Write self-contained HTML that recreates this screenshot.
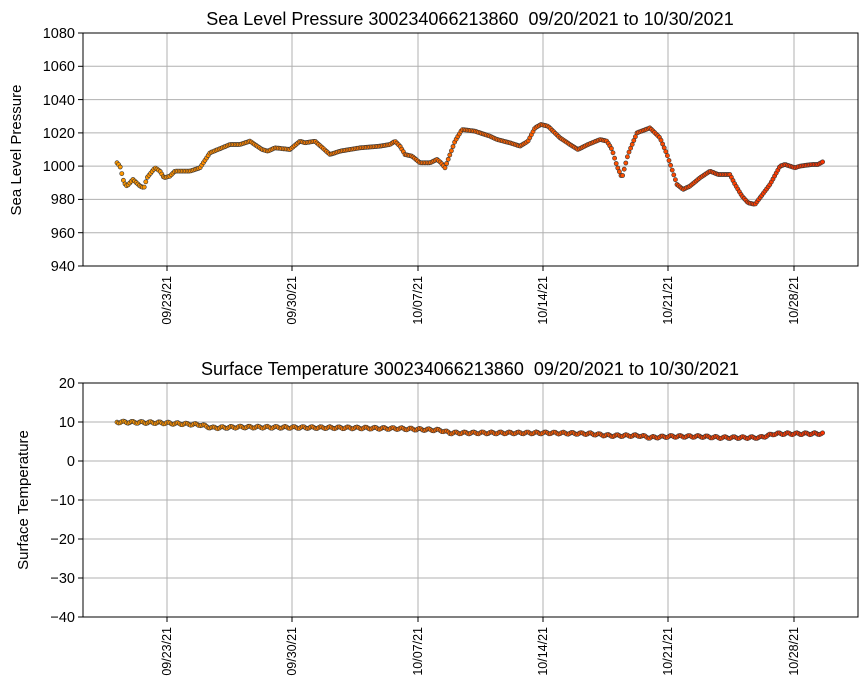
<!DOCTYPE html><html><head><meta charset="utf-8"><style>body{margin:0;background:#fff}svg{display:block}text{font-family:"Liberation Sans","DejaVu Sans",sans-serif;fill:#000;white-space:pre}</style></head><body>
<svg id="s" width="867" height="700" xmlns="http://www.w3.org/2000/svg">
<rect width="867" height="700" fill="#fff"/>
<g stroke="#b0b0b0" stroke-width="1">
<line x1="167" y1="33" x2="167" y2="266"/><line x1="292" y1="33" x2="292" y2="266"/><line x1="418" y1="33" x2="418" y2="266"/><line x1="543" y1="33" x2="543" y2="266"/><line x1="668" y1="33" x2="668" y2="266"/><line x1="794" y1="33" x2="794" y2="266"/>
<line x1="83" y1="66.3" x2="858" y2="66.3"/><line x1="83" y1="99.6" x2="858" y2="99.6"/><line x1="83" y1="132.9" x2="858" y2="132.9"/><line x1="83" y1="166.1" x2="858" y2="166.1"/><line x1="83" y1="199.4" x2="858" y2="199.4"/><line x1="83" y1="232.7" x2="858" y2="232.7"/>
<line x1="167" y1="383" x2="167" y2="617"/><line x1="292" y1="383" x2="292" y2="617"/><line x1="418" y1="383" x2="418" y2="617"/><line x1="543" y1="383" x2="543" y2="617"/><line x1="668" y1="383" x2="668" y2="617"/><line x1="794" y1="383" x2="794" y2="617"/>
<line x1="83" y1="422" x2="858" y2="422"/><line x1="83" y1="461" x2="858" y2="461"/><line x1="83" y1="500" x2="858" y2="500"/><line x1="83" y1="539" x2="858" y2="539"/><line x1="83" y1="578" x2="858" y2="578"/>
</g>
<g id="pts"></g>
<g fill="none" stroke="#000" stroke-width="1"><rect x="83" y="33" width="775" height="233"/><rect x="83" y="383" width="775" height="234"/></g>
<g stroke="#000"><line x1="167" y1="266" x2="167" y2="271"/><line x1="292" y1="266" x2="292" y2="271"/><line x1="418" y1="266" x2="418" y2="271"/><line x1="543" y1="266" x2="543" y2="271"/><line x1="668" y1="266" x2="668" y2="271"/><line x1="794" y1="266" x2="794" y2="271"/>
<line x1="167" y1="617" x2="167" y2="622"/><line x1="292" y1="617" x2="292" y2="622"/><line x1="418" y1="617" x2="418" y2="622"/><line x1="543" y1="617" x2="543" y2="622"/><line x1="668" y1="617" x2="668" y2="622"/><line x1="794" y1="617" x2="794" y2="622"/>
<line x1="78" y1="33" x2="83" y2="33"/><line x1="78" y1="66.3" x2="83" y2="66.3"/><line x1="78" y1="99.6" x2="83" y2="99.6"/><line x1="78" y1="132.9" x2="83" y2="132.9"/><line x1="78" y1="166.1" x2="83" y2="166.1"/><line x1="78" y1="199.4" x2="83" y2="199.4"/><line x1="78" y1="232.7" x2="83" y2="232.7"/><line x1="78" y1="266" x2="83" y2="266"/>
<line x1="78" y1="383" x2="83" y2="383"/><line x1="78" y1="422" x2="83" y2="422"/><line x1="78" y1="461" x2="83" y2="461"/><line x1="78" y1="500" x2="83" y2="500"/><line x1="78" y1="539" x2="83" y2="539"/><line x1="78" y1="578" x2="83" y2="578"/><line x1="78" y1="617" x2="83" y2="617"/></g>
<g font-size="14.5" text-anchor="end">
<text x="75" y="38">1080</text><text x="75" y="71">1060</text><text x="75" y="105">1040</text><text x="75" y="138">1020</text><text x="75" y="171">1000</text><text x="75" y="204">980</text><text x="75" y="238">960</text><text x="75" y="271">940</text>
<text x="75" y="388">20</text><text x="75" y="427">10</text><text x="75" y="466">0</text><text x="75" y="505">−10</text><text x="75" y="544">−20</text><text x="75" y="583">−30</text><text x="75" y="622">−40</text></g>
<g font-size="12.5" text-anchor="end">
<text transform="translate(171,276) rotate(-90)">09/23/21</text><text transform="translate(296,276) rotate(-90)">09/30/21</text><text transform="translate(422,276) rotate(-90)">10/07/21</text><text transform="translate(547,276) rotate(-90)">10/14/21</text><text transform="translate(672,276) rotate(-90)">10/21/21</text><text transform="translate(798,276) rotate(-90)">10/28/21</text>
<text transform="translate(171,627) rotate(-90)">09/23/21</text><text transform="translate(296,627) rotate(-90)">09/30/21</text><text transform="translate(422,627) rotate(-90)">10/07/21</text><text transform="translate(547,627) rotate(-90)">10/14/21</text><text transform="translate(672,627) rotate(-90)">10/21/21</text><text transform="translate(798,627) rotate(-90)">10/28/21</text></g>
<g font-size="15" text-anchor="middle"><text transform="translate(21,150) rotate(-90)">Sea Level Pressure</text><text transform="translate(28,500) rotate(-90)">Surface Temperature</text></g>
<g font-size="18" text-anchor="middle"><text x="470" y="25" xml:space="preserve">Sea Level Pressure 300234066213860  09/20/2021 to 10/30/2021</text><text x="470" y="375" xml:space="preserve">Surface Temperature 300234066213860  09/20/2021 to 10/30/2021</text></g>
</svg>
<script>
var P=[[117,1002],[120,1000],[124,990],[127,988],[133,992],[140,988],[144,987],[147,993],[155,999],[160,997],[164,993],[170,994],[175,997],[190,997],[200,999],[210,1008],[230,1013],[240,1013],[250,1015],[262,1010],[268,1009],[275,1011],[290,1010],[300,1015],[305,1014],[315,1015],[330,1007],[340,1009],[360,1011],[380,1012],[390,1013],[395,1015],[400,1012],[405,1007],[412,1006],[420,1002],[430,1002],[437,1004],[441,1002],[445,999],[450,1007],[455,1015],[462,1022],[475,1021],[490,1018],[497,1016],[510,1014],[520,1012],[528,1015],[535,1023],[541,1025],[548,1024],[560,1017],[570,1013],[578,1010],[588,1013],[600,1016],[607,1015],[612,1010],[617,1000],[622,993],[628,1007],[637,1020],[650,1023],[660,1017],[667,1007],[672,998],[677,989],[683,986],[690,988],[700,993],[710,997],[718,995],[730,995],[735,989],[742,982],[748,978],[755,977],[760,981],[770,989],[780,1000],[785,1001],[795,999],[800,1000],[812,1001],[818,1001],[824,1003]];
var T=[[117,10],[160,9.8],[200,9.3],[212,8.5],[240,8.7],[290,8.6],[350,8.5],[400,8.3],[440,7.9],[450,7.2],[550,7.2],[590,7.0],[610,6.5],[640,6.5],[650,6.0],[670,6.3],[700,6.3],[720,6.0],[760,6.0],[775,7.0],[824,7.0]];
function iv(A,x){for(var i=1;i<A.length;i++)if(x<=A[i][0]){var a=A[i-1],b=A[i];return a[1]+(b[1]-a[1])*(x-a[0])/(b[0]-a[0]);}return A[A.length-1][1];}
var h='';for(var x=117;x<=824;x+=1.6){var f=(x-117)/707;var g=Math.round(153-f*102);var c='rgb(255,'+g+',0)';
var y1=33+(1080-iv(P,x))*233/140;var y2=383+(20-iv(T,x)+0.25*Math.sin(x*0.7))*234/60;
h+='<circle cx="'+x.toFixed(1)+'" cy="'+y1.toFixed(1)+'" r="2.1" fill="'+c+'" stroke="#333" stroke-width="0.6"/>';
h+='<circle cx="'+x.toFixed(1)+'" cy="'+y2.toFixed(1)+'" r="2.1" fill="'+c+'" stroke="#333" stroke-width="0.6"/>';}
document.getElementById('pts').innerHTML=h;
</script>
</body></html>
